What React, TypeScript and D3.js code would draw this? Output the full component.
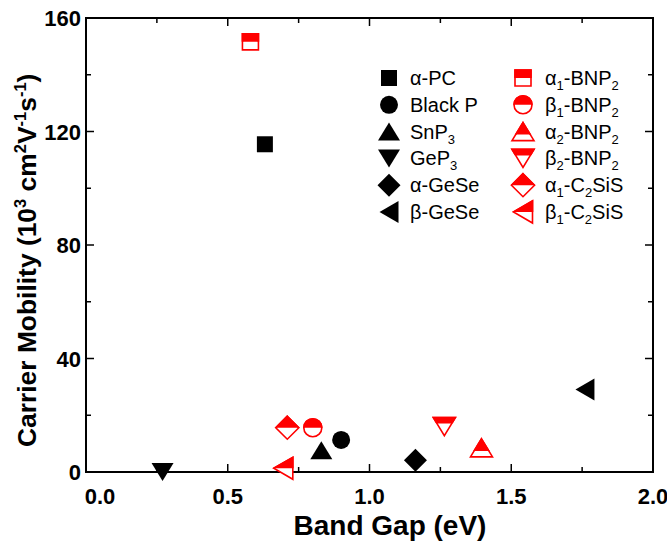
import React from "react";
import * as d3 from "d3";

const names = ["α-PC", "Black P", "SnP3", "GeP3", "α-GeSe", "β-GeSe", "α1-BNP2", "β1-BNP2", "α2-BNP2", "β2-BNP2", "α1-C2SiS", "β1-C2SiS"];
const bandGap = [0.631, 0.9, 0.83, 0.27, 1.162, 1.76, 0.58, 0.8, 1.395, 1.264, 0.71, 0.696];
const mobility = [115.5, 11.3, 7.7, 0, 4.1, 29.1, 151.6, 15.6, 8.5, 16.0, 15.6, 1.3];
const shapes = ["square", "circle", "up", "down", "diamond", "left", "square", "circle", "up", "down", "diamond", "left"];
const groups = ["full", "full", "full", "full", "full", "full", "half", "half", "half", "half", "half", "half"];
// legend label parts: [text, isSub]
const legendLabels: [string, boolean][][] = [
  [["α-PC", false]],
  [["Black P", false]],
  [["SnP", false], ["3", true]],
  [["GeP", false], ["3", true]],
  [["α-GeSe", false]],
  [["β-GeSe", false]],
  [["α", false], ["1", true], ["-BNP", false], ["2", true]],
  [["β", false], ["1", true], ["-BNP", false], ["2", true]],
  [["α", false], ["2", true], ["-BNP", false], ["2", true]],
  [["β", false], ["2", true], ["-BNP", false], ["2", true]],
  [["α", false], ["1", true], ["-C", false], ["2", true], ["SiS", false]],
  [["β", false], ["1", true], ["-C", false], ["2", true], ["SiS", false]],
];
const xTicks = [0, 0.5, 1.0, 1.5, 2.0];
const xMinor = [0.25, 0.75, 1.25, 1.75];
const yTicks = [0, 40, 80, 120, 160];
const yMinor = [20, 60, 100, 140];

const W = 667, H = 543;
const L = 86, R = 653, T = 18, B = 472;
const RED = "#ff0000";

function shapePath(s: string): string {
  switch (s) {
    case "square": return "M-8,-8L8,-8L8,8L-8,8Z";
    case "circle": return "M-9,0A9,9 0 1,1 9,0A9,9 0 1,1 -9,0Z";
    case "up": return "M0,-9L11,9L-11,9Z";
    case "down": return "M-11,-9L11,-9L0,9Z";
    case "diamond": return "M0,-11.5L11.5,0L0,11.5L-11.5,0Z";
    case "left": return "M-9.5,0L9.5,-11L9.5,11Z";
  }
  return "";
}

function clipFor(s: string): string {
  if (s === "up") return "url(#clipUp)";
  if (s === "down") return "url(#clipDown)";
  return "url(#clipMid)";
}

function Marker({ x, y, shape, style }: { x: number; y: number; shape: string; style: string }) {
  const d = shapePath(shape);
  if (style === "full") {
    return <path d={d} transform={`translate(${x},${y})`} fill="#000" />;
  }
  return (
    <g transform={`translate(${x},${y})`}>
      <path d={d} fill="#fff" stroke={RED} strokeWidth={1.6} />
      <path d={d} fill={RED} stroke={RED} strokeWidth={1.6} clipPath={clipFor(shape)} />
    </g>
  );
}

export default function App() {
  const x = d3.scaleLinear().domain([0, 2]).range([L, R]);
  const y = d3.scaleLinear().domain([0, 160]).range([B, T]);
  const fontB = "'Liberation Sans', Arial, sans-serif";

  const legendX = [389, 523];
  const legendTextX = [410, 545];
  const legendY0 = 78, legendDy = 26.8;

  return (
    <svg width={W} height={H} style={{ position: "absolute", left: 0, top: 0, display: "block" }} fontFamily={fontB}>
      <defs>
        <clipPath id="clipMid">
          <rect x={-20} y={-20} width={40} height={20} />
        </clipPath>
        <clipPath id="clipUp">
          <rect x={-20} y={-20} width={40} height={23} />
        </clipPath>
        <clipPath id="clipDown">
          <rect x={-20} y={-20} width={40} height={17} />
        </clipPath>
      </defs>
      <rect width={W} height={H} fill="#fff" />
      {/* ticks */}
      <g stroke="#000" strokeWidth={1.5}>
        {xTicks.map((t) => (
          <g key={"xt" + t}>
            <line x1={x(t)} x2={x(t)} y1={B} y2={B - 8} />
            <line x1={x(t)} x2={x(t)} y1={T} y2={T + 8} />
          </g>
        ))}
        {xMinor.map((t) => (
          <g key={"xm" + t}>
            <line x1={x(t)} x2={x(t)} y1={B} y2={B - 5} />
            <line x1={x(t)} x2={x(t)} y1={T} y2={T + 5} />
          </g>
        ))}
        {yTicks.map((t) => (
          <g key={"yt" + t}>
            <line x1={L} x2={L + 8} y1={y(t)} y2={y(t)} />
            <line x1={R} x2={R - 8} y1={y(t)} y2={y(t)} />
          </g>
        ))}
        {yMinor.map((t) => (
          <g key={"ym" + t}>
            <line x1={L} x2={L + 5} y1={y(t)} y2={y(t)} />
            <line x1={R} x2={R - 5} y1={y(t)} y2={y(t)} />
          </g>
        ))}
      </g>
      <rect x={L} y={T} width={R - L} height={B - T} fill="none" stroke="#000" strokeWidth={2} />
      {/* tick labels */}
      <g fontSize={22} fontWeight="bold" fill="#000">
        {xTicks.map((t) => (
          <text key={"xl" + t} x={t === 0 ? x(t) + 14 : x(t)} y={504} textAnchor="middle">
            {t.toFixed(1)}
          </text>
        ))}
        {yTicks.map((t) => (
          <text key={"yl" + t} x={81} y={y(t) + 8} textAnchor="end">
            {t}
          </text>
        ))}
      </g>
      {/* axis titles */}
      <text x={390} y={535} textAnchor="middle" fontSize={28} fontWeight="bold">Band Gap (eV)</text>
      <text transform={`translate(36,447) rotate(-90)`} textAnchor="start" fontSize={26.4} fontWeight="bold">
        Carrier Mobility (10<tspan fontSize={16.5} dy={-10}>3</tspan>
        <tspan dy={10}> cm</tspan>
        <tspan fontSize={16.5} dy={-10}>2</tspan>
        <tspan dy={10}>V</tspan>
        <tspan fontSize={16.5} dy={-10}>-1</tspan>
        <tspan dy={10}>s</tspan>
        <tspan fontSize={16.5} dy={-10}>-1</tspan>
        <tspan dy={10}>)</tspan>
      </text>
      {/* points */}
      {names.map((n, i) => (
        <Marker key={"p" + n} x={x(bandGap[i])} y={y(mobility[i])} shape={shapes[i]} style={groups[i]} />
      ))}
      {/* legend */}
      {names.map((n, i) => {
        const col = i < 6 ? 0 : 1;
        const row = i % 6;
        const cy = legendY0 + row * legendDy;
        return (
          <g key={"lg" + n}>
            <Marker x={legendX[col]} y={cy} shape={shapes[i]} style={groups[i]} />
            <text x={legendTextX[col]} y={cy + 7} fontSize={20} fill="#000">
              {legendLabels[i].map(([s, sub], k) => (
                <tspan key={k} fontSize={sub ? 13 : 20} dy={sub ? 5 : (k > 0 && legendLabels[i][k - 1][1] ? -5 : 0)}>{s}</tspan>
              ))}
            </text>
          </g>
        );
      })}
    </svg>
  );
}
